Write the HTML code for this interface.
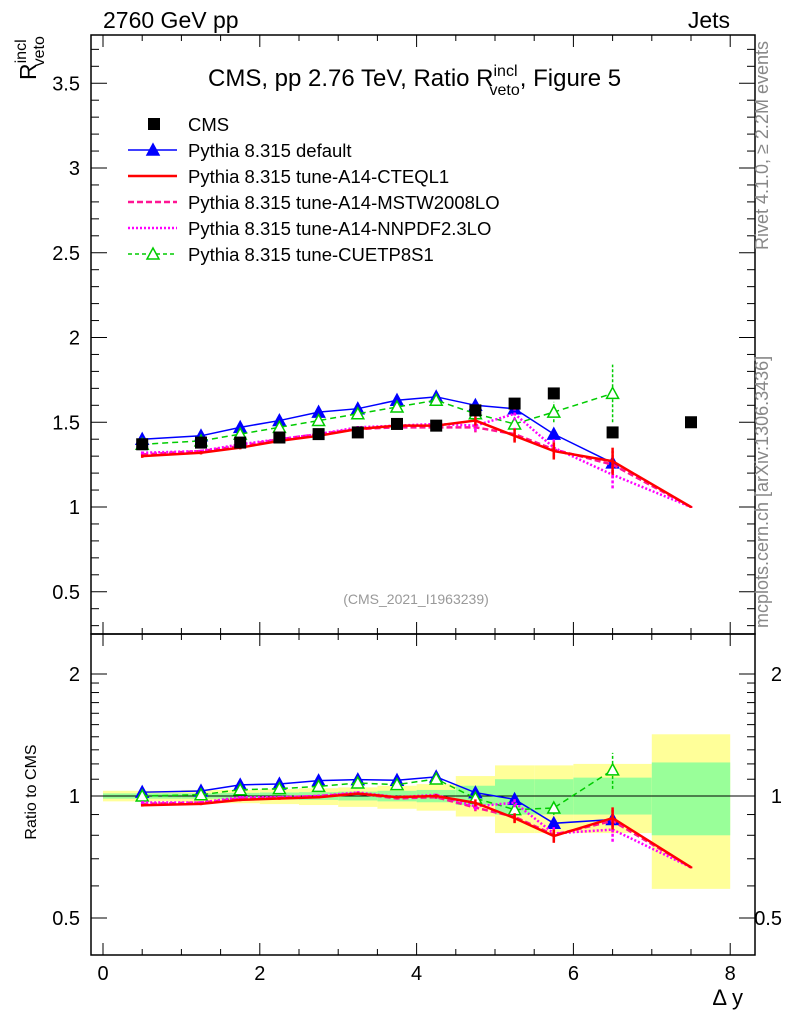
<!DOCTYPE html>
<html><head><meta charset="utf-8"><style>
body{margin:0;background:#fff;}
svg text{font-family:"Liberation Sans",sans-serif;}
</style></head><body>
<svg id="c" width="786" height="1024" xmlns="http://www.w3.org/2000/svg"></svg>
<script>
const xs=[0.5,1.25,1.75,2.25,2.75,3.25,3.75,4.25,4.75,5.25,5.75,6.5,7.5];
const cms=[1.37,1.38,1.38,1.41,1.43,1.44,1.49,1.48,1.57,1.61,1.67,1.44,1.50];
const pyDefault=[1.40,1.42,1.47,1.51,1.56,1.58,1.63,1.65,1.60,1.58,1.43,1.26];
const pyCTEQ=[1.30,1.32,1.35,1.39,1.42,1.46,1.48,1.48,1.51,1.42,1.33,1.27,1.00];
const pyMSTW=[1.31,1.33,1.36,1.40,1.43,1.46,1.47,1.47,1.47,1.43,1.34,1.25,1.00];
const pyNNPDF=[1.32,1.33,1.37,1.40,1.43,1.47,1.48,1.49,1.48,1.55,1.35,1.19,1.00];
const pyCUETP=[1.37,1.39,1.43,1.47,1.51,1.55,1.59,1.63,1.55,1.49,1.56,1.67];
const cuetpErr=[0.01,0.01,0.01,0.01,0.01,0.01,0.01,0.01,0.02,0.03,0.06,0.17];
const pinkErr=[0.01,0.01,0.01,0.01,0.01,0.01,0.01,0.015,0.03,0.04,0.05,0.08,0.005];
const binEdges=[0,1,1.5,2,2.5,3,3.5,4,4.5,5,5.5,6,7,8];
const yellowUp=[1.03,1.035,1.035,1.04,1.045,1.05,1.06,1.07,1.12,1.19,1.19,1.2,1.42];
const yellowDn=[0.97,0.965,0.96,0.955,0.95,0.94,0.93,0.92,0.89,0.81,0.81,0.81,0.59];
const greenUp=[1.015,1.015,1.018,1.02,1.022,1.025,1.03,1.035,1.06,1.1,1.1,1.11,1.21];
const greenDn=[0.985,0.985,0.982,0.98,0.978,0.975,0.97,0.965,0.95,0.9,0.9,0.9,0.8];
const xTicks=[0,2,4,6,8];
const mainTicks=[0.5,1,1.5,2,2.5,3,3.5];
const ratioTicks=[0.5,1,2];

const S=document.getElementById('c');const NS='http://www.w3.org/2000/svg';
function el(t,a,p){const e=document.createElementNS(NS,t);for(const k in a)e.setAttribute(k,a[k]);(p||S).appendChild(e);return e;}
const L=91,R=755,T1=35,B1=634,T2=634,B2=955;
const X=v=>103+v*78.4;
const Y1=v=>507-(v-1)*169.5;
const Y2=r=>796-122*Math.log2(r);

const gb=el('g',{});

for(let i=0;i<binEdges.length-1;i++){
 const x0=X(binEdges[i]),x1=X(binEdges[i+1]);
 let r=el('rect',{x:x0,y:Y2(yellowUp[i]),width:x1-x0,height:Y2(yellowDn[i])-Y2(yellowUp[i]),fill:'#ffff99'},gb);
 
 r=el('rect',{x:x0,y:Y2(greenUp[i]),width:x1-x0,height:Y2(greenDn[i])-Y2(greenUp[i]),fill:'#99ff99'},gb);
 
}
el('line',{x1:L,x2:R,y1:Y2(1),y2:Y2(1),stroke:'#000','stroke-width':1});

for(const [t,b] of [[T1,B1],[T2,B2]]){
 const f=el('rect',{x:L,y:t,width:R-L,height:b-t,fill:'none',stroke:'#000','stroke-width':1.5});
 
 for(let v=0;v<=8.3;v+=0.5){const maj=Math.abs(v-Math.round(v/2)*2)<1e-6;const len=maj?12:6;
  el('line',{x1:X(v),x2:X(v),y1:t,y2:t+len,stroke:'#000'});el('line',{x1:X(v),x2:X(v),y1:b,y2:b-len,stroke:'#000'});}
}
for(let v=0.3;v<3.78;v+=0.1){const maj=Math.abs(v*2-Math.round(v*2))<1e-6;const len=maj?16:8;const y=Y1(v);
 el('line',{x1:L,x2:L+len,y1:y,y2:y,stroke:'#000'});el('line',{x1:R,x2:R-len,y1:y,y2:y,stroke:'#000'});}
mainTicks.forEach(v=>{const t=el('text',{x:80,y:Y1(v)+7,'font-size':20,'text-anchor':'end'});t.textContent=String(v);
 });
const rminor=[0.5,0.6,0.7,0.8,0.9,1,1.1,1.2,1.3,1.4,1.5,1.6,1.7,1.8,1.9,2];
rminor.forEach(v=>{const maj=ratioTicks.includes(v);const len=maj?16:8;const y=Y2(v);
 el('line',{x1:L,x2:L+len,y1:y,y2:y,stroke:'#000'});el('line',{x1:R,x2:R-len,y1:y,y2:y,stroke:'#000'});});
ratioTicks.forEach(v=>{let t=el('text',{x:80,y:Y2(v)+7,'font-size':20,'text-anchor':'end'});t.textContent=String(v);
 
 t=el('text',{x:782,y:Y2(v)+7,'font-size':20,'text-anchor':'end'});t.textContent=String(v);
 });
xTicks.forEach(v=>{const t=el('text',{x:X(v),y:980,'font-size':20,'text-anchor':'middle'});t.textContent=String(v);
 });

const series=[
 {d:pyDefault,c:'#0000ff',w:1.5,dash:'',m:'tri',name:'pythia-default'},
 {d:pyCUETP,c:'#00cc00',w:1.5,dash:'6,4',m:'otri',name:'pythia-cuetp8s1',e:cuetpErr},
 {d:pyMSTW,c:'#ff1493',w:2.5,dash:'6,3',m:'',name:'pythia-mstw2008lo',e:pinkErr},
 {d:pyNNPDF,c:'#ff00ff',w:2.5,dash:'2,2',m:'',name:'pythia-nnpdf23lo',e:pinkErr},
 {d:pyCTEQ,c:'#ff0000',w:2.5,dash:'',m:'',name:'pythia-cteql1',e:pinkErr}
];
function tri(g,x,y,c,fill){return el('path',{d:`M${x},${y-6}L${x+6},${y+5}L${x-6},${y+5}Z`,fill:fill?c:'#fff',stroke:c,'stroke-width':1.5},g);}
function drawSeries(panel){
 series.forEach(s=>{
  const g=el('g',{});
  
  const pts=s.d.map((v,i)=>{const val=panel?v/cms[i]:v;return [X(xs[i]),panel?Y2(val):Y1(val)];});
  el('polyline',{points:pts.map(p=>p.join(',')).join(' '),fill:'none',stroke:s.c,'stroke-width':s.w,'stroke-dasharray':s.dash},g);
  s.d.forEach((v,i)=>{const p=pts[i];
   const er=s.e?s.e[i]:0.015;
   const lo=panel?Y2((v-er)/cms[i]):Y1(v-er),hi=panel?Y2((v+er)/cms[i]):Y1(v+er);
   el('line',{x1:p[0],x2:p[0],y1:lo,y2:hi,stroke:s.c,'stroke-width':s.m?1.5:2.5,'stroke-dasharray':s.dash?'3,2':''},g);
   if(s.m==='tri'){const m=tri(g,p[0],p[1],s.c,true);}
   else if(s.m==='otri'){const m=tri(g,p[0],p[1],s.c,false);}
  });
 });
}
drawSeries(false);
const cg=el('g',{});
cms.forEach((v,i)=>{const r=el('rect',{x:X(xs[i])-6,y:Y1(v)-6,width:12,height:12,fill:'#000'},cg);
 });
drawSeries(true);

function tx(x,y,s,str,name,extra){const t=el('text',Object.assign({x:x,y:y,'font-size':s},extra||{}));t.innerHTML=str;
 return t;}
tx(103,28,23,'2760 GeV pp','header-energy');
tx(730,28,23,'Jets','header-process',{'text-anchor':'end'});
tx(208,86,24,'CMS, pp 2.76 TeV, Ratio R<tspan dy="-10" font-size="16">incl</tspan><tspan dx="-28" dy="19" font-size="16">veto</tspan><tspan dy="-9">, Figure 5</tspan>','plot-title');
tx(0,0,23,'R<tspan dy="-10" font-size="16">incl</tspan><tspan dx="-27" dy="18" font-size="16">veto</tspan>','y-axis-title',{transform:'translate(36 80) rotate(-90)'});
tx(36,792,16,'Ratio to CMS','ratio-axis-title',{transform:'rotate(-90 36 792)','text-anchor':'middle'});
tx(743,1005,22,'Δ y','x-axis-title',{'text-anchor':'end'});
tx(416,604,14,'(CMS_2021_I1963239)','analysis-id',{'text-anchor':'middle',fill:'#999'});
tx(0,0,18,'Rivet 4.1.0, ≥ 2.2M events','rivet-label',{fill:'#888',transform:'translate(768 250) rotate(-90)'});
tx(0,0,18,'mcplots.cern.ch [arXiv:1306.3436]','mcplots-label',{fill:'#888',transform:'translate(768 628) rotate(-90)'});
const leg=[['CMS','sq','#000',''],['Pythia 8.315 default','tri','#0000ff',''],['Pythia 8.315 tune-A14-CTEQL1','','#ff0000',''],
['Pythia 8.315 tune-A14-MSTW2008LO','','#ff1493','6,3'],['Pythia 8.315 tune-A14-NNPDF2.3LO','','#ff00ff','2,2'],['Pythia 8.315 tune-CUETP8S1','otri','#00cc00','4,3']];
leg.forEach((l,i)=>{const y=124+i*26;const g=el('g',{});
 if(l[1]==='sq')el('rect',{x:148,y:y-6,width:12,height:12,fill:'#000'},g);
 else{el('line',{x1:128,x2:177,y1:y,y2:y,stroke:l[2],'stroke-width':l[1]?1.5:2.5,'stroke-dasharray':l[3]},g);
  if(l[1]==='tri')tri(g,153,y,l[2],true);if(l[1]==='otri')tri(g,153,y,l[2],false);}
 const t=el('text',{x:188,y:y+7,'font-size':18.5},g);t.textContent=l[0];});
</script>
</body></html>
